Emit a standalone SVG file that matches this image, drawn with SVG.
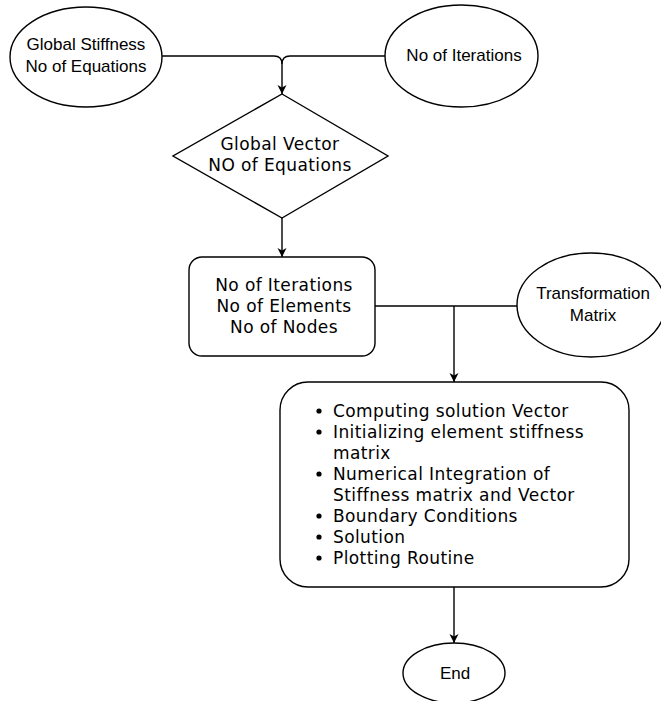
<svg xmlns="http://www.w3.org/2000/svg" width="661" height="701" viewBox="0 0 661 701">
<style>
.s{fill:#fff;stroke:#000;stroke-width:1.4}
.c{fill:none;stroke:#000;stroke-width:1.4}
.a{font-family:"Liberation Sans",Arial,sans-serif;font-size:17px;fill:#000;text-anchor:middle}
.v{font-family:"DejaVu Sans",Verdana,sans-serif;font-size:17px;letter-spacing:0.4px;fill:#000}
.m{text-anchor:middle}
</style>
<defs>
<marker id="ah" markerWidth="10" markerHeight="12" refX="9" refY="5" orient="auto" markerUnits="userSpaceOnUse">
<path d="M0,0.5 L9,5 L0,9.5 L2.5,5 Z" fill="#000"/>
</marker>
</defs>
<rect width="661" height="701" fill="#fff"/>
<g id="connectors">
<path class="c" d="M162,56 H274 Q282,56 282,64 V94" marker-end="url(#ah)"/>
<path class="c" d="M385,56 H290 Q282,56 282,64"/>
<path class="c" d="M282,218 V257" marker-end="url(#ah)"/>
<path class="c" d="M375,306 H517"/>
<path class="c" d="M454,306 V382" marker-end="url(#ah)"/>
<path class="c" d="M454,587 V643" marker-end="url(#ah)"/>
</g>
<g id="n1">
<ellipse class="s" cx="86" cy="57" rx="76" ry="50"/>
<text class="a" x="86" y="50">Global Stiffness</text>
<text class="a" x="86" y="72">No of Equations</text>
</g>
<g id="n2">
<ellipse class="s" cx="461.5" cy="56" rx="76.5" ry="51"/>
<text class="a" x="464" y="61">No of Iterations</text>
</g>
<g id="n3">
<polygon class="s" points="282,94 388,156 282,218 173,156"/>
<text class="v m" x="280" y="150">Global Vector</text>
<text class="v m" x="280" y="171">NO of Equations</text>
</g>
<g id="n4">
<rect class="s" x="189" y="257" width="186" height="99" rx="13"/>
<text class="v m" x="284" y="291">No of Iterations</text>
<text class="v m" x="284" y="312">No of Elements</text>
<text class="v m" x="284" y="333">No of Nodes</text>
</g>
<g id="n5">
<ellipse class="s" cx="591" cy="305" rx="74" ry="52"/>
<text class="a" x="593" y="299">Transformation</text>
<text class="a" x="593" y="321">Matrix</text>
</g>
<g id="n6">
<rect class="s" x="280" y="382" width="349" height="205" rx="28"/>
<g class="v">
<circle cx="319" cy="411" r="2.6"/>
<text x="333" y="417">Computing solution Vector</text>
<circle cx="319" cy="432" r="2.6"/>
<text x="333" y="438">Initializing element stiffness</text>
<text x="333" y="459">matrix</text>
<circle cx="319" cy="474" r="2.6"/>
<text x="333" y="480">Numerical Integration of</text>
<text x="333" y="501">Stiffness matrix and Vector</text>
<circle cx="319" cy="516" r="2.6"/>
<text x="333" y="522">Boundary Conditions</text>
<circle cx="319" cy="537" r="2.6"/>
<text x="333" y="543">Solution</text>
<circle cx="319" cy="558" r="2.6"/>
<text x="333" y="564">Plotting Routine</text>
</g>
</g>
<g id="n7">
<ellipse class="s" cx="454" cy="673" rx="51" ry="30"/>
<text class="a" x="455" y="679">End</text>
</g>
</svg>
